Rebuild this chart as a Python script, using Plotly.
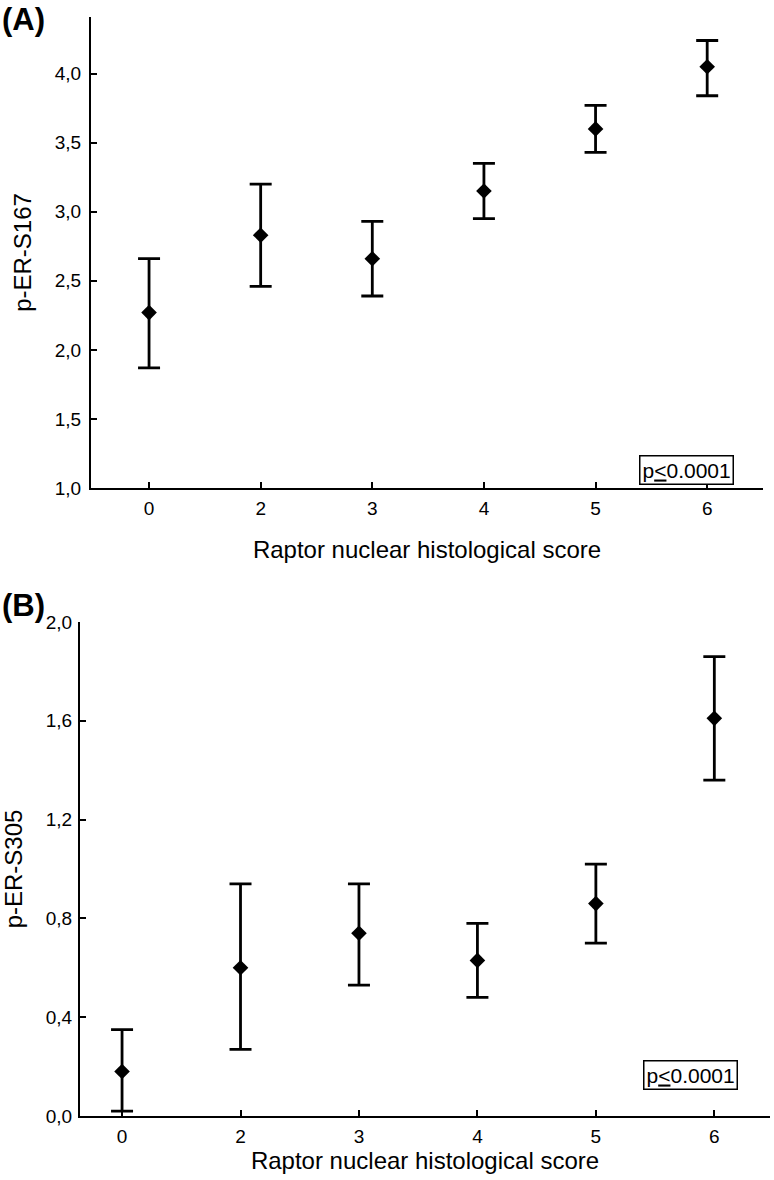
import plotly.graph_objects as go

# Raptor nuclear histological score categories
scores = ["0", "2", "3", "4", "5", "6"]

# Panel A: p-ER-S167 (mean and 95% CI bounds)
s167_mean = [2.27, 2.83, 2.66, 3.15, 3.60, 4.05]
s167_upper = [2.66, 3.20, 2.93, 3.35, 3.77, 4.24]
s167_lower = [1.87, 2.46, 2.39, 2.95, 3.43, 3.84]

# Panel B: p-ER-S305
s305_mean = [0.18, 0.60, 0.74, 0.63, 0.86, 1.61]
s305_upper = [0.35, 0.94, 0.94, 0.78, 1.02, 1.86]
s305_lower = [0.02, 0.27, 0.53, 0.48, 0.70, 1.36]

FONT = "Liberation Sans"
W, H = 774, 1180


def err_trace(mean, upper, lower, xaxis, yaxis):
    return go.Scatter(
        x=scores, y=mean, mode="markers",
        marker=dict(symbol="diamond", size=12, color="black"),
        error_y=dict(type="data", symmetric=False,
                     array=[u - m for u, m in zip(upper, mean)],
                     arrayminus=[m - l for m, l in zip(mean, lower)],
                     color="black", thickness=2.8, width=11),
        xaxis=xaxis, yaxis=yaxis, showlegend=False, hoverinfo="skip",
    )


fig = go.Figure()
fig.add_trace(err_trace(s167_mean, s167_upper, s167_lower, "x", "y"))
fig.add_trace(err_trace(s305_mean, s305_upper, s305_lower, "x2", "y2"))

axis_common = dict(showline=True, linecolor="black", linewidth=2,
                   ticks="inside", ticklen=6, tickwidth=1.5, tickcolor="black",
                   showgrid=False, zeroline=False, automargin=False,
                   tickfont=dict(family=FONT, size=19, color="black"))

fig.update_layout(
    template="none",
    width=W, height=H,
    margin=dict(l=0, r=0, t=0, b=0),
    plot_bgcolor="white", paper_bgcolor="white",
    separators=", ",
    font=dict(family=FONT, color="black"),
    xaxis=dict(domain=[91 / W, 763 / W], anchor="y", type="category",
               range=[-0.52, 5.5], ticklabelstandoff=2,
               title=dict(text="Raptor nuclear histological score",
                          font=dict(size=24), standoff=23),
               **axis_common),
    yaxis=dict(domain=[1 - 488 / H, 1 - 17 / H], anchor="x",
               range=[1.0, 4.41], tick0=1.0, dtick=0.5, tickformat=".1f",
               ticklabelstandoff=4,
               title=dict(text="p-ER-S167", font=dict(size=24), standoff=16),
               **axis_common),
    xaxis2=dict(domain=[80 / W, 770 / W], anchor="y2", type="category",
                range=[-0.355, 5.47], ticklabelstandoff=2,
                title=dict(text="Raptor nuclear histological score",
                           font=dict(size=24), standoff=4),
                **axis_common),
    yaxis2=dict(domain=[1 - 1116 / H, 1 - 622 / H], anchor="x2",
                range=[0, 2.0], tick0=0, dtick=0.4, tickformat=".1f",
                ticklabelstandoff=2,
                title=dict(text="p-ER-S305", font=dict(size=24), standoff=16),
                **axis_common),
)

fig.add_annotation(text="<b>(A)</b>", x=0, y=1, xref="paper", yref="paper",
                   xanchor="left", yanchor="top", showarrow=False,
                   font=dict(size=31, family=FONT))
fig.add_annotation(text="<b>(B)</b>", x=0, y=1 - 586 / H, xref="paper", yref="paper",
                   xanchor="left", yanchor="top", showarrow=False,
                   font=dict(size=31, family=FONT))

for xc, yc in [(686 / W, 1 - 470 / H), (690 / W, 1 - 1075 / H)]:
    fig.add_annotation(text="p<u>&lt;</u>0.0001", x=xc, y=yc, xref="paper", yref="paper",
                       xanchor="center", yanchor="middle",
                       showarrow=False, bordercolor="black", borderwidth=1.5,
                       borderpad=2, bgcolor="white",
                       font=dict(size=21, family=FONT))

# the page's default body margin would shift the figure by 8px
fig.write_html("out.html", config={"displayModeBar": False},
               post_script="document.body.style.margin='0';")
